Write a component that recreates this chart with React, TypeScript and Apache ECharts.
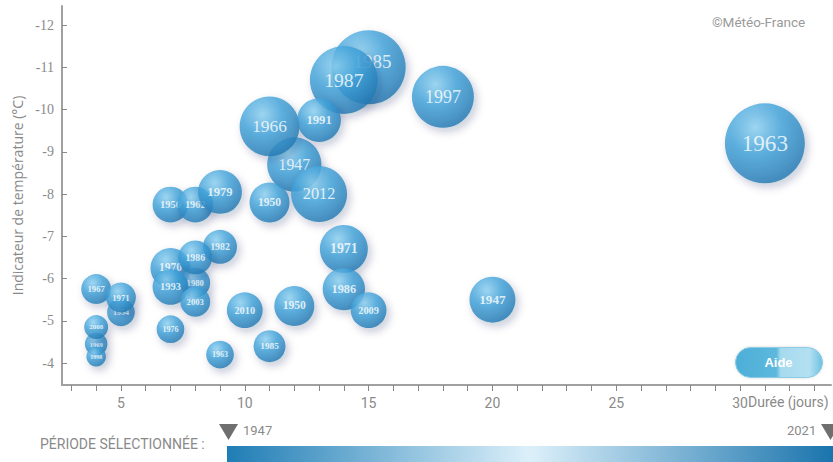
import { useEffect, useRef } from "react";
import * as echarts from "echarts";

// Cold waves: year, duration (days), temperature indicator (°C), magnitude index (0-100)
const annees = ["1947", "1947", "1950", "1950", "1954", "1956", "1962", "1963", "1963", "1966", "1967", "1969", "1970", "1971", "1971", "1976", "1979", "1980", "1982", "1985", "1985", "1986", "1986", "1987", "1991", "1993", "1997", "1998", "2003", "2008", "2009", "2010", "2012"];
const duree = [12, 20, 11, 12, 5, 7, 8, 31, 9, 11, 4, 4, 7, 5, 14, 7, 9, 8, 9, 15, 11, 8, 14, 14, 13, 7, 18, 4, 8, 4, 15, 10, 13];
const indicateur = [-8.7, -5.5, -7.8, -5.35, -5.2, -7.75, -7.75, -9.2, -4.2, -9.6, -5.75, -4.45, -6.25, -5.55, -6.7, -4.8, -8.05, -5.9, -6.75, -11.0, -4.4, -6.5, -5.75, -10.7, -9.75, -5.8, -10.3, -4.15, -5.45, -4.85, -5.25, -5.25, -8.0];
const ampleur = [46, 33, 25, 25, 12, 20, 20, 100, 12, 56, 14, 8, 25, 14, 36, 12, 30, 14, 18, 86, 16, 18, 28, 72, 30, 20, 60, 6, 14, 9, 20, 20, 49];

const yTicks = [-12, -11, -10, -9, -8, -7, -6, -5, -4];
const xMinorTicks = [3, 4, 5, 6, 7, 8, 9, 10, 11, 12, 13, 14, 15, 16, 17, 18, 19, 20, 21, 22, 23, 24, 25, 26, 27, 28, 29, 30, 31, 32, 33];
const xLabels = [5, 10, 15, 20, 25, 30];
const periodeDebut = "1947";
const periodeFin = "2021";

const diam = (a: number) => 80 * Math.sqrt(a / 100);
const NARROW = "'Liberation Sans Narrow', 'Roboto', sans-serif";

export default function App() {
  const ref = useRef<HTMLDivElement>(null);
  useEffect(() => {
    if (!ref.current) return;
    const chart = echarts.init(ref.current, null, { renderer: "svg" });
    const bubbleFill = new echarts.graphic.RadialGradient(0.38, 0.3, 0.75, [
      { offset: 0, color: "#8fd2f3" },
      { offset: 0.45, color: "#3fa2da" },
      { offset: 1, color: "#1f74b0" },
    ]);
    const series = annees.map((yr, i) => {
      const d = diam(ampleur[i]);
      const big = d >= 52;
      let fs = Math.max(6, d * 0.29);
      let offset = [0, 0];
      // the 1985 label sits half hidden behind the 1987 bubble
      if (yr === "1985" && big) {
        fs = 19;
        offset = [4, -6];
      }
      return {
        type: "scatter",
        z: 2 + i,
        data: [[duree[i], indicateur[i], ampleur[i]]],
        symbolSize: d,
        itemStyle: {
          color: bubbleFill,
          shadowColor: "rgba(0,40,80,0.28)",
          shadowBlur: 8,
          shadowOffsetX: 3,
          shadowOffsetY: 4,
        },
        label: {
          show: true,
          position: "inside",
          offset,
          formatter: yr,
          color: "#ffffff",
          fontFamily: "'Liberation Serif', serif",
          fontWeight: big ? "normal" : "bold",
          fontSize: fs,
          lineHeight: fs,
        },
        emphasis: { disabled: true },
      };
    });
    chart.setOption({
      animation: false,
      backgroundColor: "#ffffff",
      grid: { left: 62, right: 2, top: 6, bottom: 77, containLabel: false },
      xAxis: {
        type: "value",
        min: 2.62,
        max: 33.67,
        axisLine: { show: true, lineStyle: { color: "#a0a0a0", width: 2 } },
        axisTick: { show: true, customValues: xMinorTicks, length: 6, lineStyle: { color: "#888", width: 1 } },
        axisLabel: {
          customValues: xLabels,
          color: "#8a8a8a",
          fontSize: 14,
          margin: 11,
          fontFamily: NARROW,
        },
        splitLine: { show: false },
      },
      yAxis: {
        type: "value",
        inverse: true,
        min: -12.45,
        max: -3.48,
        name: "Indicateur de température (°C)",
        nameLocation: "middle",
        nameGap: 35,
        nameTextStyle: { color: "#8a8a8a", fontSize: 14, fontFamily: "'Open Sans', sans-serif" },
        axisLine: { show: true, lineStyle: { color: "#a0a0a0", width: 2 } },
        axisTick: { show: true, inside: true, customValues: yTicks, length: 5, lineStyle: { color: "#888" } },
        axisLabel: {
          customValues: yTicks,
          color: "#8a8a8a",
          fontSize: 14,
          margin: 8,
          fontFamily: "'Liberation Serif', serif",
        },
        splitLine: { show: false },
      },
      graphic: [
        {
          type: "text",
          left: 712,
          top: 15,
          style: { text: "©Météo-France", fill: "#9a9a9a", font: "13.5px " + NARROW },
        },
        {
          type: "text",
          left: 748,
          top: 395,
          style: { text: "Durée (jours)", fill: "#8a8a8a", font: "14px " + NARROW },
        },
        {
          type: "group",
          left: 735,
          top: 347,
          children: [
            {
              type: "rect",
              shape: { x: 0, y: 0, width: 87, height: 30, r: 15 },
              style: {
                fill: new echarts.graphic.LinearGradient(0, 0, 1, 0, [
                  { offset: 0, color: "#4daed8" },
                  { offset: 0.47, color: "#5db8dd" },
                  { offset: 0.52, color: "#a6daee" },
                  { offset: 0.85, color: "#b3e0f1" },
                  { offset: 1, color: "#6dc0e0" },
                ]),
                stroke: "#8ccbe4",
                lineWidth: 1,
                shadowColor: "rgba(0,0,0,0.15)",
                shadowBlur: 3,
              },
            },
            {
              type: "text",
              x: 43,
              y: 15,
              style: { text: "Aide", fill: "#ffffff", font: "bold 13px 'Liberation Sans', sans-serif", align: "center", verticalAlign: "middle" },
            },
          ],
        },
        {
          type: "text",
          left: 40,
          top: 437,
          style: { text: "PÉRIODE SÉLECTIONNÉE :", fill: "#8a8a8a", font: "14px " + NARROW },
        },
        {
          type: "rect",
          shape: { x: 227, y: 446, width: 606, height: 16 },
          style: {
            fill: new echarts.graphic.LinearGradient(0, 0, 1, 0, [
              { offset: 0, color: "#1f7db5" },
              { offset: 0.5, color: "#dcf0fa" },
              { offset: 1, color: "#1a74ad" },
            ]),
          },
        },
        {
          type: "polygon",
          shape: { points: [[219, 424], [238, 424], [228.5, 440]] },
          style: { fill: "#6f6f6f" },
        },
        {
          type: "polygon",
          shape: { points: [[821, 424], [840, 424], [830.5, 440]] },
          style: { fill: "#6f6f6f" },
        },
        {
          type: "text",
          left: 243,
          top: 424,
          style: { text: periodeDebut, fill: "#8a8a8a", font: "13px " + NARROW },
        },
        {
          type: "text",
          left: 787,
          top: 424,
          style: { text: periodeFin, fill: "#8a8a8a", font: "13px " + NARROW },
        },
      ],
      series,
    });
    return () => chart.dispose();
  }, []);
  return <div ref={ref} style={{ width: 833, height: 462, position: "absolute", left: 0, top: 0 }} />;
}
